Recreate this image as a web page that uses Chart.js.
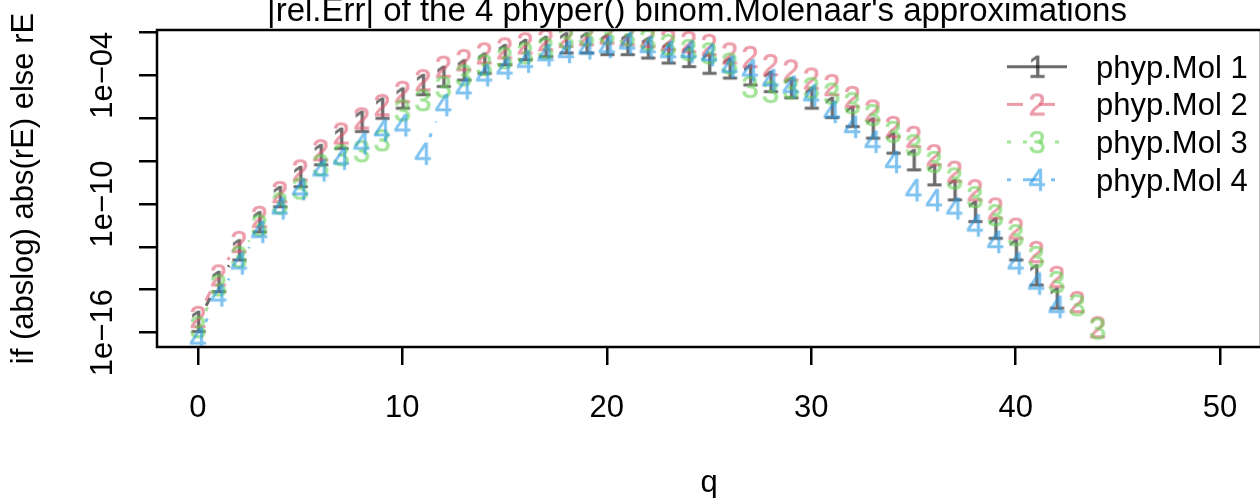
<!DOCTYPE html>
<html>
<head>
<meta charset="utf-8">
<script src="https://cdn.jsdelivr.net/npm/chart.js@4.4.1/dist/chart.umd.min.js"></script>
<style>
  html, body { margin: 0; padding: 0; background: #fff; overflow: hidden; }
  #wrap { position: relative; width: 1264px; height: 498px; }
</style>
</head>
<body>
<div id="wrap"><canvas id="chart"></canvas></div>
<script>
// q = 0..44, relative errors of the 4 Molenaar approximations
const Q = [0, 1, 2, 3, 4, 5, 6, 7, 8, 9, 10, 11, 12, 13, 14, 15, 16, 17, 18, 19, 20, 21,
  22, 23, 24, 25, 26, 27, 28, 29, 30, 31, 32, 33, 34, 35, 36, 37, 38, 39, 40, 41, 42, 43, 44];

const MOL1 = [3.2e-16, 2.3e-14, 6.9e-13, 1.4e-11, 2.1e-10, 1.8e-9, 1.9e-8, 1.1e-7, 6.8e-7, 2.8e-6,
  8.3e-6, 3.5e-5, 8.5e-5, 1.7e-4, 3.5e-4, 8.7e-4, 1.5e-3, 2.1e-3, 3.1e-3, 3.1e-3,
  2.6e-3, 2.6e-3, 1.8e-3, 1.05e-3, 7.2e-4, 3.5e-4, 2.1e-4, 1.0e-4, 4.9e-5, 2.5e-5,
  8.3e-6, 3.0e-6, 1.15e-6, 3.3e-7, 6.6e-8, 1.1e-8, 2.2e-9, 4.4e-10, 4.3e-11, 7.1e-12,
  6.9e-13, 4.7e-14, 3.9e-15, null, null];

const MOL2 = [5.4e-16, 4.7e-14, 1.7e-12, 2.5e-11, 3.6e-10, 3.7e-9, 3.2e-8, 1.95e-7, 9.8e-7, 4.1e-6,
  1.7e-5, 5.9e-5, 2.5e-4, 5.1e-4, 1.05e-3, 1.8e-3, 3.1e-3, 4.4e-3, 6.2e-3, 7.4e-3,
  8.9e-3, 7.4e-3, 6.2e-3, 4.4e-3, 3.6e-3, 2.6e-3, 1.05e-3, 7.2e-4, 3.0e-4, 1.7e-4,
  7.1e-5, 3.5e-5, 9.8e-6, 2.3e-6, 3.9e-7, 1.35e-7, 1.9e-8, 3.2e-9, 4.4e-10, 6.2e-11,
  7.1e-12, 5.8e-13, 4.0e-14, 2.7e-15, 1.8e-16];

const MOL3 = [1.8e-16, 1.6e-14, 3.4e-13, 1.0e-11, 1.05e-10, 5.2e-10, 6.5e-9, 1.9e-8, 2.9e-8, 9.3e-8,
  2.3e-6, 6.9e-6, 2.9e-5, 1.0e-4, 3.0e-4, 6.3e-4, 1.07e-3, 1.8e-3, 5.4e-3, 7.4e-3,
  8.9e-3, 7.4e-3, 4.4e-3, 2.6e-3, 1.5e-3, 1.05e-3, 3.5e-4, 2.9e-5, 1.7e-5, 2.5e-5,
  2.5e-5, 1.4e-5, 5.0e-6, 1.4e-6, 2.3e-7, 5.5e-8, 9.1e-9, 1.55e-9, 2.1e-10, 3.0e-11,
  3.5e-12, 3.4e-13, 2.3e-14, 1.9e-15, 1.55e-16];

const MOL4 = [5.4e-17, 5.5e-15, 1.7e-13, 5.0e-12, 6.2e-11, 4.9e-10, 3.7e-9, 1.3e-8, 6.6e-8, 2.75e-7,
  4.7e-7, 2.2e-8, 4.1e-6, 2.5e-5, 1.0e-4, 2.1e-4, 4.3e-4, 8.7e-4, 1.23e-3, 1.8e-3,
  2.1e-3, 3.1e-3, 2.1e-3, 1.23e-3, 1.23e-3, 8.7e-4, 2.5e-4, 1.7e-4, 5.9e-5, 2.9e-5,
  1.17e-5, 1.95e-6, 3.9e-7, 7.9e-8, 9.1e-9, 4.4e-10, 1.5e-10, 6.2e-11, 1.0e-11, 1.7e-12,
  1.7e-13, 1.95e-14, 1.6e-15, null, null];

const SERIES_NAMES = ["phyp.Mol 1", "phyp.Mol 2", "phyp.Mol 3", "phyp.Mol 4"];
const X_TICKS = [0, 10, 20, 30, 40, 50];
const Y_TICKS = [1e-2, 1e-4, 1e-6, 1e-8, 1e-10, 1e-12, 1e-14, 1e-16];
const Y_TICK_LABELS = ["", "1e\u221204", "", "", "1e\u221210", "", "", "1e\u221216"];

const TITLE = "|rel.Err| of the 4 phyper() binom.Molenaar's approximations";
const X_TITLE = "q";
const Y_TITLE = "if (abslog) abs(rE) else rE";

// --- styling ---------------------------------------------------------------
const FONT = '"Liberation Sans", Arial, Helvetica, sans-serif';
const FS = 31;          // base text size (axis, legend, plotting digits)
const LW = 3;           // line width of the series
const GAP = 18;         // type="b": line stops this far from each digit
const ALPHA = 0.58;
const STYLES = [
  { pch: "1", rgb: "0,0,0",       dash: [] },
  { pch: "2", rgb: "223,83,107",  dash: [16, 16] },
  { pch: "3", rgb: "97,208,79",   dash: [4, 12] },
  { pch: "4", rgb: "34,151,230",  dash: [4, 12, 16, 12] },
];
const SERIES = [MOL1, MOL2, MOL3, MOL4];

function rgba(st) { return `rgba(${st.rgb},${ALPHA})`; }

// The plotting character as a small bitmap: drawn opaque (slightly emboldened)
// and then copied with the series alpha, so fill and stroke don't double up.
function digitImage(st) {
  const size = 44;
  const solid = document.createElement("canvas");
  solid.width = solid.height = size;
  const c = solid.getContext("2d");
  c.font = `${FS}px ${FONT}`;
  c.textAlign = "center";
  c.textBaseline = "alphabetic";
  c.fillStyle = c.strokeStyle = `rgb(${st.rgb})`;
  c.lineWidth = 0.7;
  c.fillText(st.pch, size / 2, size / 2 + 0.358 * FS);
  c.strokeText(st.pch, size / 2, size / 2 + 0.358 * FS);
  const img = document.createElement("canvas");
  img.width = img.height = size;
  const g = img.getContext("2d");
  g.globalAlpha = ALPHA;
  g.drawImage(solid, 0, 0);
  return img;
}
const DIGITS = STYLES.map(digitImage);

function segment(ctx, x0, y0, x1, y1, st) {
  ctx.strokeStyle = rgba(st);
  ctx.lineWidth = LW;
  ctx.lineCap = "butt";
  ctx.setLineDash(st.dash);
  ctx.lineDashOffset = 0;
  ctx.beginPath();
  ctx.moveTo(x0, y0);
  ctx.lineTo(x1, y1);
  ctx.stroke();
  ctx.setLineDash([]);
}

const rPlot = {
  id: "rPlot",
  // type="b" lines: gapped segments between successive points
  beforeDatasetsDraw(chart) {
    const { ctx, chartArea: a } = chart;
    ctx.save();
    ctx.beginPath();
    ctx.rect(a.left, a.top, a.right - a.left, a.bottom - a.top);
    ctx.clip();
    chart.data.datasets.forEach((ds, i) => {
      const pts = chart.getDatasetMeta(i).data;
      for (let k = 0; k + 1 < pts.length; k++) {
        const p = pts[k], n = pts[k + 1];
        if (p.skip || n.skip) continue;
        const dx = n.x - p.x, dy = n.y - p.y;
        const len = Math.hypot(dx, dy);
        if (len <= 2 * GAP) continue;
        const ux = dx / len, uy = dy / len;
        segment(ctx, p.x + ux * GAP, p.y + uy * GAP, n.x - ux * GAP, n.y - uy * GAP, STYLES[i]);
      }
    });
    ctx.restore();
  },
  afterDraw(chart) {
    const { ctx, chartArea: a, scales } = chart;
    ctx.save();
    // plot box
    ctx.strokeStyle = "#000";
    ctx.lineWidth = 2.5;
    ctx.setLineDash([]);
    ctx.strokeRect(a.left, a.top, a.right - a.left, a.bottom - a.top);

    ctx.fillStyle = "#000";
    ctx.textBaseline = "alphabetic";
    ctx.font = `33px ${FONT}`;
    ctx.textAlign = "center";
    ctx.fillText(TITLE, 697, 21);

    ctx.font = `${FS}px ${FONT}`;
    for (const v of X_TICKS) {
      ctx.fillText(String(v), scales.x.getPixelForValue(v), 417);
    }
    ctx.fillText(X_TITLE, (a.left + a.right) / 2, 492);

    // y tick labels run parallel to the axis
    Y_TICKS.forEach((v, i) => {
      if (!Y_TICK_LABELS[i]) return;
      ctx.save();
      ctx.translate(112, scales.y.getPixelForValue(v));
      ctx.rotate(-Math.PI / 2);
      ctx.fillText(Y_TICK_LABELS[i], 0, 0);
      ctx.restore();
    });
    ctx.save();
    ctx.translate(33, (a.top + a.bottom) / 2);
    ctx.rotate(-Math.PI / 2);
    ctx.fillText(Y_TITLE, 0, 0);
    ctx.restore();

    // legend, top right, no box
    SERIES_NAMES.forEach((name, i) => {
      const cy = 66.7 + i * 37.7;
      segment(ctx, 1007, cy, 1067, cy, STYLES[i]);
      const d = DIGITS[i];
      ctx.drawImage(d, 1037 - d.width / 2, cy - d.height / 2);
      ctx.fillStyle = "#000";
      ctx.textAlign = "left";
      ctx.fillText(name, 1096, cy + 0.358 * FS);
    });
    ctx.restore();
  },
};

new Chart(document.getElementById("chart"), {
  type: "line",
  data: {
    datasets: SERIES.map((vals, i) => ({
      label: SERIES_NAMES[i],
      data: Q.map((q, k) => ({ x: q, y: vals[k] })),
      showLine: false,
      pointStyle: DIGITS[i],
      pointRadius: 1,
      pointHoverRadius: 1,
      order: 3 - i,   // later series on top, as matplot draws them
      clip: 0,
    })),
  },
  options: {
    responsive: true,
    maintainAspectRatio: false,
    animation: false,
    events: [],
    layout: { padding: { top: 30, right: 3, left: 0, bottom: 0 } },
    plugins: { legend: { display: false }, tooltip: { enabled: false }, title: { display: false } },
    scales: {
      x: {
        type: "linear",
        min: -2, max: 52,
        afterBuildTicks: (s) => { s.ticks = X_TICKS.map((v) => ({ value: v })); },
        afterFit: (s) => { s.height = 151; },
        ticks: { display: false },
        grid: { drawOnChartArea: false, drawTicks: true, tickLength: 18, color: "#000", lineWidth: 2.5 },
        border: { display: false },
      },
      y: {
        type: "logarithmic",
        min: 2.14e-17, max: 1.29e-2,
        afterBuildTicks: (s) => { s.ticks = Y_TICKS.map((v) => ({ value: v })); },
        afterFit: (s) => { s.width = 157; },
        ticks: { display: false },
        grid: { drawOnChartArea: false, drawTicks: true, tickLength: 18, color: "#000", lineWidth: 2.5 },
        border: { display: false },
      },
    },
  },
  plugins: [rPlot],
});
</script>
</body>
</html>
